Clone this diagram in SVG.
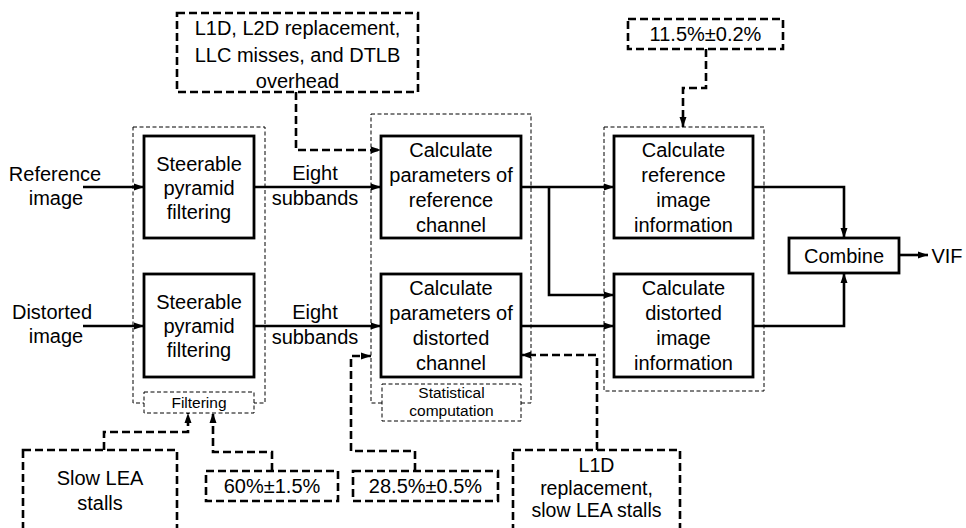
<svg xmlns="http://www.w3.org/2000/svg" width="966" height="528" viewBox="0 0 966 528" font-family="'Liberation Sans', Arial, sans-serif">
  <style>
    text { font-family: "Liberation Sans", Arial, sans-serif; font-size: 20px; fill: #000; text-anchor: middle; }
    .small { font-size: 15.5px; }
    .tight { font-size: 19.5px; }
    .box { fill: #fff; stroke: #000; stroke-width: 2.8; }
    .note { fill: #fff; stroke: #000; stroke-width: 2.6; stroke-dasharray: 8 4; }
    .group { fill: none; stroke: #000; stroke-width: 1; stroke-dasharray: 4 2.5; }
    .label { fill: #fff; stroke: #000; stroke-width: 1; stroke-dasharray: 4 2.5; }
    .flow { fill: none; stroke: #000; stroke-width: 2.6; }
    .dash { fill: none; stroke: #000; stroke-width: 2.6; stroke-dasharray: 8 4; }
  </style>
  <defs>
    <marker id="arrow" markerUnits="userSpaceOnUse" markerWidth="10" markerHeight="10" viewBox="0 0 10 10" refX="10" refY="5" orient="auto">
      <path d="M0,1.5 L10,5 L0,8.5 Z" fill="#000"/>
    </marker>
  </defs>

  <rect width="966" height="528" fill="#fff"/>

  <!-- stage groups (dotted outlines) -->
  <g id="stage-filtering">
    <rect class="group" x="133" y="127" width="132" height="276"/>
    <rect class="label" x="144" y="392" width="110" height="21"/>
    <text class="small" x="199" y="408">Filtering</text>
  </g>
  <g id="stage-statistical">
    <rect class="group" x="371" y="114" width="160" height="289"/>
    <rect class="label" x="382" y="384" width="139" height="37"/>
    <text class="small" x="451.5" y="398">Statistical</text>
    <text class="small" x="451.5" y="416">computation</text>
  </g>
  <g id="stage-information">
    <rect class="group" x="604" y="127" width="160" height="264"/>
  </g>

  <!-- connectors -->
  <g id="connectors">
    <line class="flow" x1="83" y1="187" x2="144" y2="187" marker-end="url(#arrow)"/>
    <line class="flow" x1="83" y1="326" x2="144" y2="326" marker-end="url(#arrow)"/>
    <line class="flow" x1="254" y1="187" x2="381" y2="187" marker-end="url(#arrow)"/>
    <line class="flow" x1="254" y1="326" x2="381" y2="326" marker-end="url(#arrow)"/>
    <line class="flow" x1="521" y1="187" x2="614" y2="187" marker-end="url(#arrow)"/>
    <polyline class="flow" points="549,187 549,295 614,295" marker-end="url(#arrow)"/>
    <line class="flow" x1="521" y1="326" x2="614" y2="326" marker-end="url(#arrow)"/>
    <polyline class="flow" points="753,187 844,187 844,238" marker-end="url(#arrow)"/>
    <polyline class="flow" points="753,326 844,326 844,273" marker-end="url(#arrow)"/>
    <line class="flow" x1="899" y1="255" x2="928" y2="255" marker-end="url(#arrow)"/>

    <polyline class="dash" points="296,92 296,150 381,150" marker-end="url(#arrow)"/>
    <polyline class="dash" points="706,49 706,88 683,88 683,127" marker-end="url(#arrow)"/>
    <polyline class="dash" points="104,450 104,432 188,432 188,413" marker-end="url(#arrow)"/>
    <polyline class="dash" points="272,471 272,452 213,452 213,413" marker-end="url(#arrow)"/>
    <polyline class="dash" points="415,471 415,451 351,451 351,356 371,356" marker-end="url(#arrow)"/>
    <polyline class="dash" points="597,450 597,355 521,355" marker-end="url(#arrow)"/>
  </g>

  <!-- inputs and output -->
  <g id="input-reference">
    <text x="55" y="181">Reference</text>
    <text x="56" y="205">image</text>
  </g>
  <g id="input-distorted">
    <text x="52" y="319">Distorted</text>
    <text x="56" y="343">image</text>
  </g>
  <g id="subbands-reference">
    <text x="315" y="180">Eight</text>
    <text x="315" y="205">subbands</text>
  </g>
  <g id="subbands-distorted">
    <text x="315" y="319">Eight</text>
    <text x="315" y="344">subbands</text>
  </g>
  <g id="output-vif">
    <text x="947" y="263">VIF</text>
  </g>

  <!-- processing nodes -->
  <g id="pyramid-reference">
    <rect class="box" x="144" y="136" width="110" height="102"/>
    <text x="199" y="171">Steerable</text>
    <text x="199" y="195">pyramid</text>
    <text x="199" y="219">filtering</text>
  </g>
  <g id="pyramid-distorted">
    <rect class="box" x="144" y="274" width="110" height="103"/>
    <text x="199" y="309">Steerable</text>
    <text x="199" y="333">pyramid</text>
    <text x="199" y="357">filtering</text>
  </g>
  <g id="params-reference">
    <rect class="box" x="381" y="136" width="140" height="102"/>
    <text x="451" y="157">Calculate</text>
    <text x="451" y="182">parameters of</text>
    <text x="451" y="207">reference</text>
    <text x="451" y="232">channel</text>
  </g>
  <g id="params-distorted">
    <rect class="box" x="381" y="274" width="140" height="103"/>
    <text x="451" y="295">Calculate</text>
    <text x="451" y="320">parameters of</text>
    <text x="451" y="345">distorted</text>
    <text x="451" y="370">channel</text>
  </g>
  <g id="info-reference">
    <rect class="box" x="614" y="136" width="139" height="102"/>
    <text x="683.5" y="157">Calculate</text>
    <text x="683.5" y="182">reference</text>
    <text x="683.5" y="207">image</text>
    <text x="683.5" y="232">information</text>
  </g>
  <g id="info-distorted">
    <rect class="box" x="614" y="274" width="139" height="103"/>
    <text x="683.5" y="295">Calculate</text>
    <text x="683.5" y="320">distorted</text>
    <text x="683.5" y="345">image</text>
    <text x="683.5" y="370">information</text>
  </g>
  <g id="combine">
    <rect class="box" x="789" y="238" width="110" height="35"/>
    <text x="844" y="263">Combine</text>
  </g>

  <!-- annotation notes -->
  <g id="note-cache">
    <rect class="note" x="177" y="13" width="241" height="79"/>
    <text x="297.5" y="35">L1D, L2D replacement,</text>
    <text x="297.5" y="62">LLC misses, and DTLB</text>
    <text x="297.5" y="88">overhead</text>
  </g>
  <g id="note-info-share">
    <rect class="note" x="628" y="19" width="155" height="30"/>
    <text x="705.5" y="41">11.5%±0.2%</text>
  </g>
  <g id="note-lea">
    <rect class="note" x="23" y="450" width="154" height="90"/>
    <text x="100" y="485">Slow LEA</text>
    <text x="100" y="510">stalls</text>
  </g>
  <g id="note-filter-share">
    <rect class="note" x="206" y="471" width="132" height="30"/>
    <text x="272" y="493">60%±1.5%</text>
  </g>
  <g id="note-stat-share">
    <rect class="note" x="353" y="471" width="145" height="30"/>
    <text x="425.5" y="493">28.5%±0.5%</text>
  </g>
  <g id="note-l1d">
    <rect class="note" x="513" y="450" width="167" height="90"/>
    <text class="tight" x="596.5" y="472">L1D</text>
    <text class="tight" x="596.5" y="494.5">replacement,</text>
    <text class="tight" x="596.5" y="517">slow LEA stalls</text>
  </g>
</svg>
